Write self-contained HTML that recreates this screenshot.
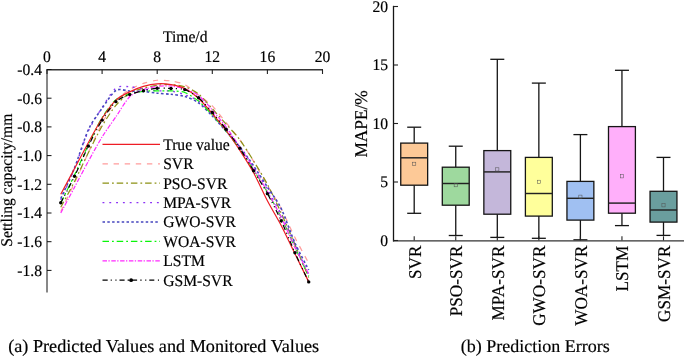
<!DOCTYPE html><html><head><meta charset="utf-8"><style>html,body{margin:0;padding:0;background:#fff;}svg{display:block;will-change:transform;}text{font-family:"Liberation Serif", serif;fill:#000;text-rendering:geometricPrecision;stroke:#000;stroke-width:0.18px;-webkit-font-smoothing:antialiased;}</style></head><body>
<svg width="685" height="356" viewBox="0 0 685 356">
<rect width="685" height="356" fill="#fff"/>
<path d="M60.77,211.56 C62.61,207.74 70.88,190.71 74.55,182.87 C78.22,175.02 84.65,160.67 88.33,152.73 C92.00,144.79 98.43,130.20 102.10,123.31 C105.77,116.42 112.20,105.57 115.88,101.07 C119.55,96.57 125.98,91.94 129.65,89.59 C133.32,87.24 139.75,84.66 143.43,83.42 C147.10,82.18 153.53,80.59 157.20,80.26 C160.87,79.94 167.30,80.41 170.98,80.98 C174.65,81.55 181.08,82.69 184.75,84.57 C188.42,86.44 194.85,92.19 198.53,95.04 C202.20,97.89 208.63,102.28 212.30,105.95 C215.97,109.62 222.40,118.08 226.08,122.59 C229.75,127.11 236.18,134.65 239.85,139.81 C243.52,144.98 249.95,155.26 253.62,161.34 C257.30,167.42 263.73,179.13 267.40,185.45 C271.07,191.76 277.50,201.75 281.18,208.70 C284.85,215.64 291.28,230.27 294.95,237.54 C298.62,244.81 306.89,259.80 308.73,263.23" fill="none" stroke="#ff9c9c" stroke-width="1.2" stroke-dasharray="5.4 5.7" stroke-linejoin="round"/>
<path d="M60.77,207.26 C62.61,203.82 70.88,188.70 74.55,181.43 C78.22,174.16 84.65,160.12 88.33,152.73 C92.00,145.34 98.43,132.35 102.10,126.04 C105.77,119.73 112.20,109.76 115.88,105.38 C119.55,100.99 125.98,95.47 129.65,93.18 C133.32,90.88 139.75,89.21 143.43,88.16 C147.10,87.10 153.53,85.76 157.20,85.28 C160.87,84.81 167.30,84.38 170.98,84.57 C174.65,84.76 181.08,85.46 184.75,86.72 C188.42,87.98 194.85,91.11 198.53,94.04 C202.20,96.97 208.63,104.68 212.30,108.68 C215.97,112.67 222.40,119.88 226.08,124.03 C229.75,128.18 236.18,134.88 239.85,139.81 C243.52,144.75 249.95,155.12 253.62,161.05 C257.30,166.98 263.73,177.37 267.40,184.30 C271.07,191.23 277.50,204.96 281.18,213.00 C284.85,221.04 291.28,235.96 294.95,244.57 C298.62,253.18 306.89,273.17 308.73,277.58" fill="none" stroke="#8c9114" stroke-width="1.2" stroke-dasharray="6.5 3 1.8 2.9" stroke-linejoin="round"/>
<path d="M60.77,200.09 C62.61,195.88 70.88,177.70 74.55,168.52 C78.22,159.33 84.65,139.34 88.33,131.20 C92.00,123.07 98.43,113.27 102.10,107.53 C105.77,101.79 112.20,90.93 115.88,88.16 C119.55,85.38 125.98,86.62 129.65,86.72 C133.32,86.82 139.75,88.34 143.43,88.87 C147.10,89.41 153.53,90.45 157.20,90.74 C160.87,91.03 167.30,90.49 170.98,91.03 C174.65,91.56 181.08,93.42 184.75,94.76 C188.42,96.10 194.85,98.51 198.53,101.07 C202.20,103.63 208.63,110.16 212.30,113.98 C215.97,117.81 222.40,125.37 226.08,129.77 C229.75,134.17 236.18,142.02 239.85,146.99 C243.52,151.96 249.95,161.44 253.62,167.08 C257.30,172.72 263.73,183.01 267.40,189.32 C271.07,195.64 277.50,207.07 281.18,214.43 C284.85,221.80 291.28,236.53 294.95,244.57 C298.62,252.61 306.89,270.69 308.73,274.71" fill="none" stroke="#8c32f5" stroke-width="1.3" stroke-dasharray="1.9 4.9" stroke-linejoin="round"/>
<path d="M60.77,198.65 C62.61,194.54 70.88,176.98 74.55,167.80 C78.22,158.61 84.65,137.71 88.33,129.77 C92.00,121.83 98.43,113.49 102.10,108.25 C105.77,103.00 112.20,92.75 115.88,90.45 C119.55,88.16 125.98,90.89 129.65,91.03 C133.32,91.16 139.75,91.17 143.43,91.46 C147.10,91.74 153.53,92.79 157.20,93.18 C160.87,93.56 167.30,93.89 170.98,94.33 C174.65,94.77 181.08,95.35 184.75,96.48 C188.42,97.61 194.85,100.19 198.53,102.79 C202.20,105.39 208.63,112.21 212.30,115.99 C215.97,119.78 222.40,127.07 226.08,131.20 C229.75,135.34 236.18,142.36 239.85,146.99 C243.52,151.62 249.95,160.59 253.62,165.93 C257.30,171.27 263.73,181.34 267.40,187.03 C271.07,192.71 277.50,201.09 281.18,208.55 C284.85,216.01 291.28,234.80 294.95,242.99 C298.62,251.18 306.89,266.37 308.73,269.97" fill="none" stroke="#4646be" stroke-width="1.6" stroke-dasharray="2.5 2.3" stroke-linejoin="round"/>
<path d="M60.77,202.96 C62.61,199.22 70.88,182.72 74.55,174.97 C78.22,167.22 84.65,152.49 88.33,144.84 C92.00,137.18 98.43,123.60 102.10,117.57 C105.77,111.55 112.20,102.79 115.88,99.63 C119.55,96.48 125.98,95.00 129.65,93.89 C133.32,92.79 139.75,91.71 143.43,91.31 C147.10,90.91 153.53,90.94 157.20,90.88 C160.87,90.82 167.30,90.67 170.98,90.88 C174.65,91.09 181.08,91.10 184.75,92.46 C188.42,93.82 194.85,98.07 198.53,101.07 C202.20,104.07 208.63,110.97 212.30,114.99 C215.97,119.01 222.40,126.65 226.08,131.20 C229.75,135.76 236.18,143.98 239.85,149.14 C243.52,154.31 249.95,164.21 253.62,169.95 C257.30,175.69 263.73,185.88 267.40,192.19 C271.07,198.51 277.50,209.94 281.18,217.30 C284.85,224.67 291.28,239.60 294.95,247.44 C298.62,255.28 306.89,272.31 308.73,276.14" fill="none" stroke="#0af50a" stroke-width="1.2" stroke-dasharray="6.5 3 1.8 2.9" stroke-linejoin="round"/>
<path d="M60.77,213.00 C62.61,209.56 70.88,194.06 74.55,187.17 C78.22,180.28 84.65,168.04 88.33,161.34 C92.00,154.64 98.43,142.88 102.10,136.94 C105.77,131.01 112.20,122.21 115.88,116.85 C119.55,111.50 125.98,100.40 129.65,96.76 C133.32,93.13 139.75,90.97 143.43,89.59 C147.10,88.21 153.53,86.91 157.20,86.43 C160.87,85.95 167.30,85.68 170.98,86.00 C174.65,86.33 181.08,87.61 184.75,88.87 C188.42,90.14 194.85,92.66 198.53,95.47 C202.20,98.29 208.63,105.78 212.30,109.97 C215.97,114.16 222.40,121.96 226.08,126.90 C229.75,131.84 236.18,141.44 239.85,146.99 C243.52,152.54 249.95,162.58 253.62,168.52 C257.30,174.45 263.73,184.97 267.40,191.47 C271.07,197.98 277.50,209.84 281.18,217.30 C284.85,224.77 291.28,239.88 294.95,247.44 C298.62,255.00 306.89,270.45 308.73,273.99" fill="none" stroke="#ff28ff" stroke-width="1.2" stroke-dasharray="4.5 1.4 1.3 1.6" stroke-linejoin="round"/>
<path d="M60.77,194.34 C62.61,190.90 70.88,175.40 74.55,168.52 C78.22,161.63 84.65,149.38 88.33,142.69 C92.00,135.99 98.43,123.97 102.10,118.29 C105.77,112.61 112.20,103.59 115.88,100.07 C119.55,96.54 125.98,93.70 129.65,91.89 C133.32,90.07 139.75,87.50 143.43,86.43 C147.10,85.36 153.53,84.10 157.20,83.85 C160.87,83.60 167.30,83.96 170.98,84.57 C174.65,85.18 181.08,86.62 184.75,88.44 C188.42,90.26 194.85,94.85 198.53,98.20 C202.20,101.55 208.63,109.25 212.30,113.55 C215.97,117.86 222.40,125.57 226.08,130.49 C229.75,135.40 236.18,144.79 239.85,150.43 C243.52,156.08 249.95,166.10 253.62,172.82 C257.30,179.54 263.73,193.78 267.40,200.80 C271.07,207.82 277.50,218.42 281.18,225.48 C284.85,232.54 291.28,246.23 294.95,253.75 C298.62,261.27 306.89,278.13 308.73,281.88" fill="none" stroke="#ee1c25" stroke-width="1.2" stroke-linejoin="round"/>
<path d="M60.77,202.81 C62.61,199.27 70.88,183.82 74.55,176.26 C78.22,168.71 84.65,153.61 88.33,146.13 C92.00,138.65 98.43,126.09 102.10,120.16 C105.77,114.22 112.20,105.05 115.88,101.64 C119.55,98.24 125.98,96.07 129.65,94.61 C133.32,93.16 139.75,91.58 143.43,90.74 C147.10,89.90 153.53,88.60 157.20,88.30 C160.87,87.99 167.30,88.27 170.98,88.44 C174.65,88.61 181.08,88.35 184.75,89.59 C188.42,90.83 194.85,94.73 198.53,97.77 C202.20,100.81 208.63,108.22 212.30,112.41 C215.97,116.60 222.40,124.41 226.08,129.20 C229.75,133.98 236.18,142.73 239.85,148.28 C243.52,153.83 249.95,164.76 253.62,170.81 C257.30,176.86 263.73,186.97 267.40,193.63 C271.07,200.29 277.50,212.87 281.18,220.75 C284.85,228.63 291.28,244.60 294.95,252.75 C298.62,260.90 306.89,278.00 308.73,281.88" fill="none" stroke="#000000" stroke-width="1.2" stroke-dasharray="5.2 3 1.1 3.6 1.1 3" stroke-linejoin="round"/>
<circle cx="60.77" cy="202.81" r="1.7" fill="#000"/>
<circle cx="74.55" cy="176.26" r="1.7" fill="#000"/>
<circle cx="88.33" cy="146.13" r="1.7" fill="#000"/>
<circle cx="102.10" cy="120.16" r="1.7" fill="#000"/>
<circle cx="115.88" cy="101.64" r="1.7" fill="#000"/>
<circle cx="129.65" cy="94.61" r="1.7" fill="#000"/>
<circle cx="143.43" cy="90.74" r="1.7" fill="#000"/>
<circle cx="157.20" cy="88.30" r="1.7" fill="#000"/>
<circle cx="170.98" cy="88.44" r="1.7" fill="#000"/>
<circle cx="184.75" cy="89.59" r="1.7" fill="#000"/>
<circle cx="198.53" cy="97.77" r="1.7" fill="#000"/>
<circle cx="212.30" cy="112.41" r="1.7" fill="#000"/>
<circle cx="226.08" cy="129.20" r="1.7" fill="#000"/>
<circle cx="239.85" cy="148.28" r="1.7" fill="#000"/>
<circle cx="253.62" cy="170.81" r="1.7" fill="#000"/>
<circle cx="267.40" cy="193.63" r="1.7" fill="#000"/>
<circle cx="281.18" cy="220.75" r="1.7" fill="#000"/>
<circle cx="294.95" cy="252.75" r="1.7" fill="#000"/>
<circle cx="308.73" cy="281.88" r="1.7" fill="#000"/>
<line x1="47" y1="69.5" x2="47" y2="292.5" stroke="#111" stroke-width="1"/>
<line x1="46.5" y1="69.75" x2="323" y2="69.75" stroke="#333" stroke-width="1.4"/>
<line x1="47.00" y1="69.5" x2="47.00" y2="74" stroke="#222" stroke-width="1.1"/>
<text transform="translate(47.00,61.70) scale(1,1.04)" font-size="15.6" text-anchor="middle">0</text>
<line x1="102.10" y1="69.5" x2="102.10" y2="74" stroke="#222" stroke-width="1.1"/>
<text transform="translate(102.10,61.70) scale(1,1.04)" font-size="15.6" text-anchor="middle">4</text>
<line x1="157.20" y1="69.5" x2="157.20" y2="74" stroke="#222" stroke-width="1.1"/>
<text transform="translate(157.20,61.70) scale(1,1.04)" font-size="15.6" text-anchor="middle">8</text>
<line x1="212.30" y1="69.5" x2="212.30" y2="74" stroke="#222" stroke-width="1.1"/>
<text transform="translate(212.30,61.70) scale(1,1.04)" font-size="15.6" text-anchor="middle">12</text>
<line x1="267.40" y1="69.5" x2="267.40" y2="74" stroke="#222" stroke-width="1.1"/>
<text transform="translate(267.40,61.70) scale(1,1.04)" font-size="15.6" text-anchor="middle">16</text>
<line x1="322.50" y1="69.5" x2="322.50" y2="74" stroke="#222" stroke-width="1.1"/>
<text transform="translate(322.50,61.70) scale(1,1.04)" font-size="15.6" text-anchor="middle">20</text>
<line x1="47" y1="69.50" x2="51.5" y2="69.50" stroke="#111" stroke-width="1"/>
<text transform="translate(42.00,74.80) scale(1,1.04)" font-size="15.6" text-anchor="end">-0.4</text>
<line x1="47" y1="98.20" x2="51.5" y2="98.20" stroke="#111" stroke-width="1"/>
<text transform="translate(42.00,103.50) scale(1,1.04)" font-size="15.6" text-anchor="end">-0.6</text>
<line x1="47" y1="126.90" x2="51.5" y2="126.90" stroke="#111" stroke-width="1"/>
<text transform="translate(42.00,132.20) scale(1,1.04)" font-size="15.6" text-anchor="end">-0.8</text>
<line x1="47" y1="155.60" x2="51.5" y2="155.60" stroke="#111" stroke-width="1"/>
<text transform="translate(42.00,160.90) scale(1,1.04)" font-size="15.6" text-anchor="end">-1.0</text>
<line x1="47" y1="184.30" x2="51.5" y2="184.30" stroke="#111" stroke-width="1"/>
<text transform="translate(42.00,189.60) scale(1,1.04)" font-size="15.6" text-anchor="end">-1.2</text>
<line x1="47" y1="213.00" x2="51.5" y2="213.00" stroke="#111" stroke-width="1"/>
<text transform="translate(42.00,218.30) scale(1,1.04)" font-size="15.6" text-anchor="end">-1.4</text>
<line x1="47" y1="241.70" x2="51.5" y2="241.70" stroke="#111" stroke-width="1"/>
<text transform="translate(42.00,247.00) scale(1,1.04)" font-size="15.6" text-anchor="end">-1.6</text>
<line x1="47" y1="270.40" x2="51.5" y2="270.40" stroke="#111" stroke-width="1"/>
<text transform="translate(42.00,275.70) scale(1,1.04)" font-size="15.6" text-anchor="end">-1.8</text>
<text transform="translate(185.20,41.90) scale(1,1.04)" font-size="15.6" text-anchor="middle">Time/d</text>
<text transform="translate(12.00,180.20) rotate(-90) scale(1,1.04)" font-size="15.6" text-anchor="middle">Settling capacity/mm</text>
<line x1="102.5" y1="144.40" x2="160" y2="144.40" stroke="#ee1c25" stroke-width="1.2"/>
<text transform="translate(163.20,149.80) scale(1,1.04)" font-size="15.6">True value</text>
<line x1="102.5" y1="163.80" x2="160" y2="163.80" stroke="#ff9c9c" stroke-width="1.2" stroke-dasharray="5.4 5.7"/>
<text transform="translate(163.20,169.20) scale(1,1.04)" font-size="15.6">SVR</text>
<line x1="102.5" y1="183.20" x2="160" y2="183.20" stroke="#8c9114" stroke-width="1.2" stroke-dasharray="6.5 3 1.8 2.9"/>
<text transform="translate(163.20,188.60) scale(1,1.04)" font-size="15.6">PSO-SVR</text>
<line x1="102.5" y1="202.60" x2="160" y2="202.60" stroke="#8c32f5" stroke-width="1.3" stroke-dasharray="1.9 4.9"/>
<text transform="translate(163.20,208.00) scale(1,1.04)" font-size="15.6">MPA-SVR</text>
<line x1="102.5" y1="222.00" x2="160" y2="222.00" stroke="#4646be" stroke-width="1.6" stroke-dasharray="2.5 2.3"/>
<text transform="translate(163.20,227.40) scale(1,1.04)" font-size="15.6">GWO-SVR</text>
<line x1="102.5" y1="241.40" x2="160" y2="241.40" stroke="#0af50a" stroke-width="1.2" stroke-dasharray="6.5 3 1.8 2.9"/>
<text transform="translate(163.20,246.80) scale(1,1.04)" font-size="15.6">WOA-SVR</text>
<line x1="102.5" y1="260.80" x2="160" y2="260.80" stroke="#ff28ff" stroke-width="1.2" stroke-dasharray="4.5 1.4 1.3 1.6"/>
<text transform="translate(163.20,266.20) scale(1,1.04)" font-size="15.6">LSTM</text>
<line x1="102.5" y1="280.20" x2="160" y2="280.20" stroke="#000000" stroke-width="1.2" stroke-dasharray="5.2 3 1.1 3.6 1.1 3 5.1 3 1.4 2.7 5.4 3.2 1.3 3.6 1.1 3 5 3.6 1.1 9"/>
<circle cx="131.1" cy="280.20" r="1.9" fill="#000"/>
<text transform="translate(163.20,285.60) scale(1,1.04)" font-size="15.6">GSM-SVR</text>
<line x1="414.20" y1="127.20" x2="414.20" y2="143.10" stroke="#151515" stroke-width="1.3"/>
<line x1="414.20" y1="185.20" x2="414.20" y2="213.30" stroke="#151515" stroke-width="1.3"/>
<line x1="407.20" y1="127.20" x2="421.20" y2="127.20" stroke="#151515" stroke-width="1.3"/>
<line x1="407.20" y1="213.30" x2="421.20" y2="213.30" stroke="#151515" stroke-width="1.3"/>
<rect x="400.75" y="143.10" width="26.90" height="42.10" fill="#fdc997" stroke="#151515" stroke-width="1.3"/>
<line x1="400.75" y1="157.80" x2="427.65" y2="157.80" stroke="#222" stroke-width="1.45"/>
<rect x="412.60" y="162.20" width="3.2" height="3.2" fill="none" stroke="#505050" stroke-width="0.5"/>
<line x1="414.20" y1="240.5" x2="414.20" y2="236.3" stroke="#222" stroke-width="1.1"/>
<text transform="translate(420.50,245.60) rotate(-90) scale(1,1.04)" font-size="17.2" text-anchor="end">SVR</text>
<line x1="455.75" y1="146.20" x2="455.75" y2="167.20" stroke="#151515" stroke-width="1.3"/>
<line x1="455.75" y1="205.20" x2="455.75" y2="235.50" stroke="#151515" stroke-width="1.3"/>
<line x1="448.75" y1="146.20" x2="462.75" y2="146.20" stroke="#151515" stroke-width="1.3"/>
<line x1="448.75" y1="235.50" x2="462.75" y2="235.50" stroke="#151515" stroke-width="1.3"/>
<rect x="442.30" y="167.20" width="26.90" height="38.00" fill="#9ed99e" stroke="#151515" stroke-width="1.3"/>
<line x1="442.30" y1="183.50" x2="469.20" y2="183.50" stroke="#222" stroke-width="1.45"/>
<rect x="454.15" y="183.60" width="3.2" height="3.2" fill="none" stroke="#505050" stroke-width="0.5"/>
<line x1="455.75" y1="240.5" x2="455.75" y2="236.3" stroke="#222" stroke-width="1.1"/>
<text transform="translate(462.05,245.60) rotate(-90) scale(1,1.04)" font-size="17.2" text-anchor="end">PSO-SVR</text>
<line x1="497.30" y1="59.30" x2="497.30" y2="150.60" stroke="#151515" stroke-width="1.3"/>
<line x1="497.30" y1="214.20" x2="497.30" y2="237.40" stroke="#151515" stroke-width="1.3"/>
<line x1="490.30" y1="59.30" x2="504.30" y2="59.30" stroke="#151515" stroke-width="1.3"/>
<line x1="490.30" y1="237.40" x2="504.30" y2="237.40" stroke="#151515" stroke-width="1.3"/>
<rect x="483.85" y="150.60" width="26.90" height="63.60" fill="#c4b7da" stroke="#151515" stroke-width="1.3"/>
<line x1="483.85" y1="171.90" x2="510.75" y2="171.90" stroke="#222" stroke-width="1.45"/>
<rect x="495.70" y="167.80" width="3.2" height="3.2" fill="none" stroke="#505050" stroke-width="0.5"/>
<line x1="497.30" y1="240.5" x2="497.30" y2="236.3" stroke="#222" stroke-width="1.1"/>
<text transform="translate(503.60,245.60) rotate(-90) scale(1,1.04)" font-size="17.2" text-anchor="end">MPA-SVR</text>
<line x1="538.85" y1="83.10" x2="538.85" y2="157.40" stroke="#151515" stroke-width="1.3"/>
<line x1="538.85" y1="216.10" x2="538.85" y2="238.30" stroke="#151515" stroke-width="1.3"/>
<line x1="531.85" y1="83.10" x2="545.85" y2="83.10" stroke="#151515" stroke-width="1.3"/>
<line x1="531.85" y1="238.30" x2="545.85" y2="238.30" stroke="#151515" stroke-width="1.3"/>
<rect x="525.40" y="157.40" width="26.90" height="58.70" fill="#ffff9b" stroke="#151515" stroke-width="1.3"/>
<line x1="525.40" y1="193.50" x2="552.30" y2="193.50" stroke="#222" stroke-width="1.45"/>
<rect x="537.25" y="180.20" width="3.2" height="3.2" fill="none" stroke="#505050" stroke-width="0.5"/>
<line x1="538.85" y1="240.5" x2="538.85" y2="236.3" stroke="#222" stroke-width="1.1"/>
<text transform="translate(545.15,245.60) rotate(-90) scale(1,1.04)" font-size="17.2" text-anchor="end">GWO-SVR</text>
<line x1="580.40" y1="134.60" x2="580.40" y2="181.40" stroke="#151515" stroke-width="1.3"/>
<line x1="580.40" y1="220.10" x2="580.40" y2="239.80" stroke="#151515" stroke-width="1.3"/>
<line x1="573.40" y1="134.60" x2="587.40" y2="134.60" stroke="#151515" stroke-width="1.3"/>
<line x1="573.40" y1="239.80" x2="587.40" y2="239.80" stroke="#151515" stroke-width="1.3"/>
<rect x="566.95" y="181.40" width="26.90" height="38.70" fill="#a0c0f2" stroke="#151515" stroke-width="1.3"/>
<line x1="566.95" y1="198.30" x2="593.85" y2="198.30" stroke="#222" stroke-width="1.45"/>
<rect x="578.80" y="195.10" width="3.2" height="3.2" fill="none" stroke="#505050" stroke-width="0.5"/>
<line x1="580.40" y1="240.5" x2="580.40" y2="236.3" stroke="#222" stroke-width="1.1"/>
<text transform="translate(586.70,245.60) rotate(-90) scale(1,1.04)" font-size="17.2" text-anchor="end">WOA-SVR</text>
<line x1="621.95" y1="70.30" x2="621.95" y2="126.60" stroke="#151515" stroke-width="1.3"/>
<line x1="621.95" y1="213.20" x2="621.95" y2="225.60" stroke="#151515" stroke-width="1.3"/>
<line x1="614.95" y1="70.30" x2="628.95" y2="70.30" stroke="#151515" stroke-width="1.3"/>
<line x1="614.95" y1="225.60" x2="628.95" y2="225.60" stroke="#151515" stroke-width="1.3"/>
<rect x="608.50" y="126.60" width="26.90" height="86.60" fill="#ffaffa" stroke="#151515" stroke-width="1.3"/>
<line x1="608.50" y1="203.10" x2="635.40" y2="203.10" stroke="#222" stroke-width="1.45"/>
<rect x="620.35" y="174.70" width="3.2" height="3.2" fill="none" stroke="#505050" stroke-width="0.5"/>
<line x1="621.95" y1="240.5" x2="621.95" y2="236.3" stroke="#222" stroke-width="1.1"/>
<text transform="translate(628.25,245.60) rotate(-90) scale(1,1.04)" font-size="17.2" text-anchor="end">LSTM</text>
<line x1="663.50" y1="157.40" x2="663.50" y2="191.30" stroke="#151515" stroke-width="1.3"/>
<line x1="663.50" y1="222.10" x2="663.50" y2="235.40" stroke="#151515" stroke-width="1.3"/>
<line x1="656.50" y1="157.40" x2="670.50" y2="157.40" stroke="#151515" stroke-width="1.3"/>
<line x1="656.50" y1="235.40" x2="670.50" y2="235.40" stroke="#151515" stroke-width="1.3"/>
<rect x="650.05" y="191.30" width="26.90" height="30.80" fill="#6a9e9e" stroke="#151515" stroke-width="1.3"/>
<line x1="650.05" y1="210.00" x2="676.95" y2="210.00" stroke="#222" stroke-width="1.45"/>
<rect x="661.90" y="203.70" width="3.2" height="3.2" fill="none" stroke="#505050" stroke-width="0.5"/>
<line x1="663.50" y1="240.5" x2="663.50" y2="236.3" stroke="#222" stroke-width="1.1"/>
<text transform="translate(669.80,245.60) rotate(-90) scale(1,1.04)" font-size="17.2" text-anchor="end">GSM-SVR</text>
<line x1="393.5" y1="5.8" x2="393.5" y2="241.5" stroke="#151515" stroke-width="1.3"/>
<line x1="393" y1="240.9" x2="684" y2="240.9" stroke="#333" stroke-width="1.4"/>
<line x1="393.5" y1="240.50" x2="398" y2="240.50" stroke="#222" stroke-width="1.1"/>
<text transform="translate(388.00,245.70) scale(1,1.04)" font-size="15.6" text-anchor="end">0</text>
<line x1="393.5" y1="182.00" x2="398" y2="182.00" stroke="#222" stroke-width="1.1"/>
<text transform="translate(388.00,187.20) scale(1,1.04)" font-size="15.6" text-anchor="end">5</text>
<line x1="393.5" y1="123.50" x2="398" y2="123.50" stroke="#222" stroke-width="1.1"/>
<text transform="translate(388.00,128.70) scale(1,1.04)" font-size="15.6" text-anchor="end">10</text>
<line x1="393.5" y1="65.00" x2="398" y2="65.00" stroke="#222" stroke-width="1.1"/>
<text transform="translate(388.00,70.20) scale(1,1.04)" font-size="15.6" text-anchor="end">15</text>
<line x1="393.5" y1="6.50" x2="398" y2="6.50" stroke="#222" stroke-width="1.1"/>
<text transform="translate(388.00,11.70) scale(1,1.04)" font-size="15.6" text-anchor="end">20</text>
<text transform="translate(367.20,123.90) rotate(-90) scale(1,1.04)" font-size="17.3" text-anchor="middle">MAPE/%</text>
<text transform="translate(8.20,352.30) scale(1,1.0)" font-size="18.2">(a) Predicted Values and Monitored Values</text>
<text transform="translate(460.80,352.30) scale(1,1.0)" font-size="18">(b) Prediction Errors</text>
</svg></body></html>
